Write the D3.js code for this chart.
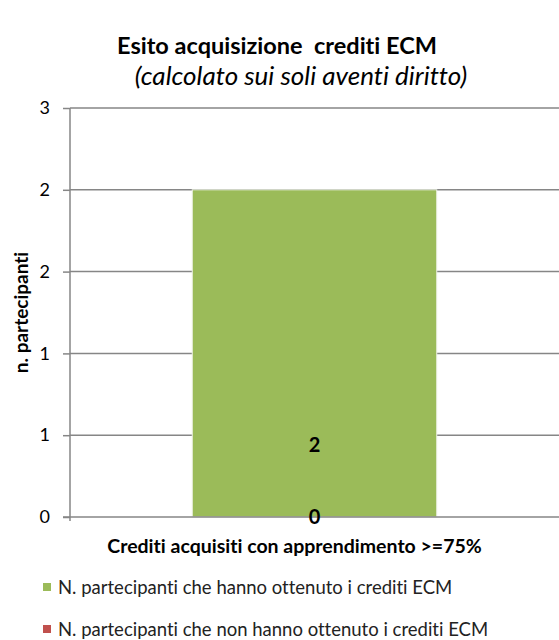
<!DOCTYPE html>
<html>
<head>
<meta charset="utf-8">
<script src="https://cdn.jsdelivr.net/npm/d3@7"></script>
<style>
  body { margin: 0; background: #fff; }
  svg text { font-family: Lato, "Open Sans", sans-serif; white-space: pre; font-variant-ligatures: none; }
</style>
</head>
<body>
<div class="center"></div>
<script>
// data
var categories = ["Crediti acquisiti con apprendimento >=75%"];
var seriesNames = ["N. partecipanti che hanno ottenuto i crediti ECM",
                   "N. partecipanti che non hanno ottenuto i crediti ECM"];
var ottenuto = [2];
var nonOttenuto = [0];
var seriesColors = ["#9bbb59", "#c0504d"];
var yTicks = [0, 0.5, 1, 1.5, 2, 2.5];
var labelAt = [0.44, 0];   // where excel put the data labels

var width = 559, height = 640;
var margin = {top: 108, right: 0, bottom: 123, left: 70};
var innerW = width - margin.left - margin.right,
    innerH = height - margin.top - margin.bottom;

var svg = d3.select("div.center").append("svg")
    .attr("width", width)
    .attr("height", height);

// titles
svg.append("text")
    .attr("x", 277).attr("y", 54)
    .attr("text-anchor", "middle")
    .style("font-size", "23.5px").style("font-weight", "bold")
    .text("Esito acquisizione  crediti ECM");
svg.append("text")
    .attr("x", 301).attr("y", 85)
    .attr("text-anchor", "middle")
    .style("font-size", "26px").style("font-style", "italic")
    .text("(calcolato sui soli aventi diritto)");

var g = svg.append("g")
    .attr("transform", "translate(" + margin.left + "," + margin.top + ")");

var x = d3.scaleBand().domain(categories).range([0, innerW]).paddingInner(0.5).paddingOuter(0.25);
var y = d3.scaleLinear().domain([0, 2.5]).range([innerH, 0]);

// gridlines
g.selectAll(".grid")
    .data(yTicks.slice(1))
    .enter().append("line")
    .attr("x1", 0).attr("x2", innerW)
    .attr("y1", function(d) { return y(d); })
    .attr("y2", function(d) { return y(d); })
    .attr("stroke", "#868686").attr("stroke-width", 1.5);

// stacked bars
var stackData = categories.map(function(c, i) {
    return {cat: c, a: ottenuto[i], b: nonOttenuto[i]};
});
var stack = d3.stack().keys(["a", "b"])(stackData);

g.selectAll(".series")
    .data(stack)
    .enter().append("g")
    .attr("fill", function(d, i) { return seriesColors[i]; })
    .selectAll("rect")
    .data(function(d) { return d; })
    .enter().append("rect")
    .attr("x", function(d) { return x(d.data.cat); })
    .attr("width", x.bandwidth())
    .attr("y", function(d) { return y(d[1]); })
    .attr("height", function(d) { return y(d[0]) - y(d[1]); })
    .attr("stroke", "#eef2e6").attr("stroke-width", 1);

// y axis
var yAxis = g.append("g")
    .call(d3.axisLeft(y).tickValues(yTicks).tickSize(7).tickPadding(13)
        .tickFormat(function(d) { return Math.round(d + 0.0001); }));
yAxis.selectAll("line, path").attr("stroke", "#868686").attr("stroke-width", 1.5);
yAxis.select(".domain").attr("d", "M0,0V" + (innerH + 4));
yAxis.selectAll("text").style("font-size", "18px").attr("fill", "#000")
    .style("font-family", "Lato, sans-serif");

// x axis line
g.append("line")
    .attr("x1", -7).attr("x2", innerW)
    .attr("y1", innerH).attr("y2", innerH)
    .attr("stroke", "#868686").attr("stroke-width", 1.5);

// data labels
var labelVals = [ottenuto[0], nonOttenuto[0]];
g.selectAll(".lbl")
    .data(labelVals)
    .enter().append("text")
    .attr("x", x(categories[0]) + x.bandwidth() / 2)
    .attr("y", function(d, i) { return y(labelAt[i]) + 7; })
    .attr("text-anchor", "middle")
    .style("font-size", "20px").style("font-weight", "bold")
    .text(function(d) { return d; });

// category label
g.append("text")
    .attr("x", x(categories[0]) + x.bandwidth() / 2 - 20)
    .attr("y", innerH + 36)
    .attr("text-anchor", "middle")
    .style("font-size", "19.5px").style("font-weight", "bold")
    .text(categories[0]);

// y axis title
svg.append("text")
    .attr("transform", "translate(28," + (margin.top + innerH / 2) + ") rotate(-90)")
    .attr("text-anchor", "middle")
    .style("font-size", "19px").style("font-weight", "bold")
    .text("n. partecipanti");

// legend
var leg = svg.selectAll(".leg")
    .data(seriesNames)
    .enter().append("g")
    .attr("transform", function(d, i) { return "translate(43," + (588 + i * 42) + ")"; });
leg.append("rect")
    .attr("x", 0).attr("y", -5).attr("width", 8).attr("height", 8)
    .attr("fill", function(d, i) { return seriesColors[i]; });
leg.append("text")
    .attr("x", 15).attr("y", 6)
    .style("font-size", "18.5px")
    .attr("fill", "#222")
    .text(function(d) { return d; });
</script>
</body>
</html>
